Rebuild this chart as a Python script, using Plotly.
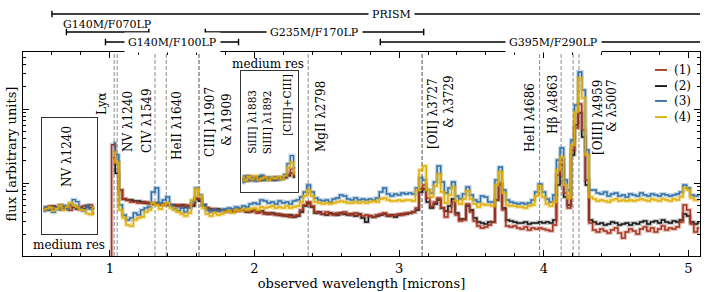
import plotly.graph_objects as go

# ---------------- data ----------------
REDSHIFT = 7.475

wavelength_um = [
    1.000,
    1.025, 1.050, 1.075, 1.100, 1.125, 1.150, 1.175, 1.200,
    1.225, 1.250, 1.275, 1.300, 1.325, 1.350, 1.375, 1.400,
    1.425, 1.450, 1.475, 1.500, 1.525, 1.550, 1.575, 1.600,
    1.625, 1.650, 1.675, 1.700, 1.725, 1.750, 1.775, 1.800,
    1.825, 1.850, 1.875, 1.900, 1.925, 1.950, 1.975, 2.000,
    2.025, 2.050, 2.075, 2.100, 2.125, 2.150, 2.175, 2.200,
    2.225, 2.250, 2.275, 2.300, 2.325, 2.350, 2.375, 2.400,
    2.425, 2.450, 2.475, 2.500, 2.525, 2.550, 2.575, 2.600,
    2.625, 2.650, 2.675, 2.700, 2.725, 2.750, 2.775, 2.800,
    2.825, 2.850, 2.875, 2.900, 2.925, 2.950, 2.975, 3.000,
    3.025, 3.050, 3.075, 3.100, 3.125, 3.150, 3.175, 3.200,
    3.225, 3.250, 3.275, 3.300, 3.325, 3.350, 3.375, 3.400,
    3.425, 3.450, 3.475, 3.500, 3.525, 3.550, 3.575, 3.600,
    3.625, 3.650, 3.675, 3.700, 3.725, 3.750, 3.775, 3.800,
    3.825, 3.850, 3.875, 3.900, 3.925, 3.950, 3.975, 4.000,
    4.025, 4.050, 4.075, 4.100, 4.125, 4.150, 4.175, 4.200,
    4.225, 4.250, 4.275, 4.300, 4.325, 4.350, 4.375, 4.400,
    4.425, 4.450, 4.475, 4.500, 4.525, 4.550, 4.575, 4.600,
    4.625, 4.650, 4.675, 4.700, 4.725, 4.750, 4.775, 4.800,
    4.825, 4.850, 4.875, 4.900, 4.925, 4.950, 4.975, 5.000,
    5.025, 5.050, 5.075,
]

flux_1 = [
    0.05,
    3.3, 1.9, 0.80, 0.608, 0.589, 0.554, 0.554, 0.537,
    0.537, 0.554, 0.521, 0.521, 0.521, 0.505, 0.521, 0.505,
    0.505, 0.489, 0.505, 0.474, 0.505, 0.474, 0.521, 0.627,
    0.608, 0.505, 0.460, 0.432, 0.446, 0.419, 0.432, 0.406,
    0.419, 0.432, 0.419, 0.446, 0.432, 0.419, 0.406, 0.419,
    0.393, 0.406, 0.381, 0.393, 0.381, 0.370, 0.381, 0.358,
    0.370, 0.347, 0.358, 0.370, 0.432, 0.505, 0.554, 0.489,
    0.406, 0.393, 0.381, 0.406, 0.381, 0.370, 0.393, 0.381,
    0.406, 0.381, 0.370, 0.393, 0.370, 0.358, 0.370, 0.358,
    0.347, 0.370, 0.381, 0.393, 0.370, 0.358, 0.370, 0.381,
    0.370, 0.393, 0.393, 0.406, 0.460, 0.830, 0.940, 0.627,
    0.489, 0.554, 0.627, 0.460, 0.347, 0.406, 0.554, 0.370,
    0.307, 0.316, 0.521, 0.406, 0.307, 0.262, 0.247, 0.254,
    0.271, 0.297, 0.589, 1.00, 0.432, 0.262, 0.254, 0.262,
    0.247, 0.239, 0.254, 0.232, 0.247, 0.239, 0.247, 0.239,
    0.232, 0.225, 0.271, 1.28, 2.05, 0.733, 0.460, 2.79,
    5.53, 11.7, 5.20, 1.10, 0.288, 0.232, 0.218, 0.239,
    0.225, 0.211, 0.232, 0.247, 0.211, 0.181, 0.218, 0.239,
    0.225, 0.205, 0.239, 0.254, 0.225, 0.247, 0.218, 0.239,
    0.262, 0.232, 0.247, 0.239, 0.254, 0.297, 0.505, 0.432,
    0.279, 0.218, 0.247,
]

flux_2 = [
    None,
    2.2, 1.36, 0.80, 0.608, 0.589, 0.589, 0.571, 0.571,
    0.554, 0.537, 0.537, 0.521, 0.537, 0.521, 0.505, 0.521,
    0.505, 0.505, 0.489, 0.505, 0.474, 0.489, 0.489, 0.608,
    0.571, 0.505, 0.460, 0.446, 0.432, 0.446, 0.432, 0.419,
    0.419, 0.406, 0.432, 0.419, 0.432, 0.406, 0.419, 0.432,
    0.406, 0.419, 0.393, 0.381, 0.393, 0.381, 0.370, 0.370,
    0.358, 0.370, 0.347, 0.358, 0.406, 0.489, 0.537, 0.474,
    0.393, 0.406, 0.381, 0.370, 0.393, 0.381, 0.370, 0.393,
    0.381, 0.370, 0.381, 0.358, 0.381, 0.337, 0.297, 0.358,
    0.347, 0.358, 0.370, 0.381, 0.358, 0.370, 0.347, 0.370,
    0.381, 0.381, 0.393, 0.406, 0.432, 0.756, 0.830, 0.554,
    0.460, 0.521, 0.589, 0.460, 0.419, 0.489, 0.608, 0.393,
    0.326, 0.326, 0.489, 0.432, 0.337, 0.297, 0.288, 0.279,
    0.297, 0.297, 0.589, 0.940, 0.460, 0.316, 0.307, 0.297,
    0.288, 0.288, 0.297, 0.279, 0.288, 0.288, 0.297, 0.288,
    0.297, 0.288, 0.316, 0.940, 1.75, 0.647, 0.505, 2.39,
    6.06, 8.8, 4.18, 0.94, 0.316, 0.297, 0.279, 0.288,
    0.271, 0.279, 0.297, 0.288, 0.271, 0.279, 0.288, 0.271,
    0.288, 0.279, 0.297, 0.307, 0.279, 0.297, 0.307, 0.288,
    0.316, 0.297, 0.288, 0.307, 0.297, 0.316, 0.381, 0.358,
    0.297, 0.279, 0.288,
]

flux_3 = [
    None,
    3.47, 2.4, 0.505, 0.370, 0.316, 0.337, 0.393, 0.370,
    0.432, 0.460, 0.474, 0.756, 0.856, 0.537, 0.589, 0.647,
    0.505, 0.446, 0.419, 0.460, 0.406, 0.460, 0.571, 0.856,
    0.689, 0.505, 0.432, 0.406, 0.432, 0.419, 0.432, 0.446,
    0.460, 0.446, 0.474, 0.460, 0.489, 0.474, 0.521, 0.537,
    0.521, 0.589, 0.571, 0.537, 0.554, 0.521, 0.571, 0.537,
    0.554, 0.521, 0.571, 0.589, 0.647, 0.756, 0.940, 0.756,
    0.627, 0.589, 0.571, 0.589, 0.554, 0.608, 0.627, 0.689,
    0.668, 0.608, 0.589, 0.627, 0.589, 0.608, 0.589, 0.608,
    0.589, 0.627, 0.756, 0.856, 0.710, 0.668, 0.710, 0.689,
    0.733, 0.710, 0.733, 0.710, 0.856, 1.17, 1.10, 0.805,
    0.733, 1.03, 1.70, 1.03, 0.733, 0.856, 1.03, 0.668,
    0.608, 0.710, 0.883, 0.689, 0.589, 0.554, 0.668, 0.647,
    0.554, 0.554, 1.10, 1.64, 0.805, 0.589, 0.554, 0.537,
    0.521, 0.537, 0.521, 0.537, 0.589, 0.756, 0.969, 0.756,
    0.608, 0.554, 0.689, 2.05, 2.97, 1.10, 0.805, 3.81,
    11.3, 31.6, 18.1, 2.79, 0.805, 0.805, 0.733, 0.710,
    0.756, 0.668, 0.710, 0.733, 0.668, 0.689, 0.647, 0.710,
    0.689, 0.668, 0.733, 0.689, 0.668, 0.710, 0.689, 0.668,
    0.710, 0.689, 0.668, 0.689, 0.710, 0.756, 0.940, 0.856,
    0.689, 0.668, 0.668,
]

flux_4 = [
    None,
    2.6, 1.9, 0.432, 0.337, 0.271, 0.262, 0.316, 0.337,
    0.347, 0.406, 0.432, 0.537, 0.505, 0.446, 0.505, 0.537,
    0.460, 0.432, 0.406, 0.381, 0.358, 0.393, 0.589, 0.830,
    0.668, 0.460, 0.381, 0.358, 0.393, 0.370, 0.381, 0.406,
    0.419, 0.393, 0.432, 0.419, 0.446, 0.432, 0.446, 0.460,
    0.432, 0.474, 0.460, 0.474, 0.489, 0.460, 0.474, 0.460,
    0.489, 0.460, 0.474, 0.489, 0.554, 0.668, 0.805, 0.668,
    0.554, 0.537, 0.521, 0.537, 0.521, 0.537, 0.554, 0.571,
    0.554, 0.537, 0.537, 0.554, 0.537, 0.554, 0.537, 0.554,
    0.571, 0.554, 0.608, 0.627, 0.589, 0.571, 0.571, 0.589,
    0.571, 0.589, 0.589, 0.571, 0.805, 1.50, 1.70, 0.805,
    0.647, 0.911, 1.32, 0.756, 0.537, 0.689, 0.883, 0.571,
    0.521, 0.608, 0.780, 0.608, 0.521, 0.474, 0.521, 0.505,
    0.505, 0.489, 0.940, 1.41, 0.733, 0.505, 0.489, 0.489,
    0.474, 0.474, 0.460, 0.489, 0.505, 0.668, 0.911, 0.647,
    0.521, 0.489, 0.554, 1.50, 2.25, 0.940, 0.627, 3.26,
    9.1, 26.3, 14.1, 2.39, 0.647, 0.608, 0.571, 0.589,
    0.571, 0.554, 0.589, 0.608, 0.571, 0.589, 0.571, 0.589,
    0.571, 0.589, 0.608, 0.589, 0.571, 0.608, 0.589, 0.571,
    0.608, 0.589, 0.571, 0.608, 0.589, 0.647, 0.856, 0.805,
    0.627, 0.589, 0.589,
]

series_names = ["(1)", "(2)", "(3)", "(4)"]

# medium-resolution inset around N V 1240 (rest-frame Angstrom)
inset1_wave_A = [1202, 1206, 1210, 1214, 1218, 1222, 1226, 1230,
                 1234, 1238, 1242, 1246, 1250, 1254, 1258, 1262]
inset1_flux_1 = [0.98, 0.95, 1.02, 0.96, 1.00, 1.04, 0.97, 1.00, 0.94, 1.03, 0.99, 0.95, 1.02, 1.00, 1.04, 0.98]
inset1_flux_2 = [0.96, 1.00, 0.95, 1.02, 0.98, 0.96, 1.01, 0.97, 1.03, 0.99, 0.96, 1.00, 0.97, 1.03, 0.99, 0.97]
inset1_flux_3 = [0.92, 1.00, 0.94, 0.90, 1.00, 0.95, 1.03, 0.96, 1.04, 1.14, 1.10, 0.97, 0.93, 1.02, 0.96, 0.88]
inset1_flux_4 = [0.95, 0.97, 1.00, 0.93, 0.97, 1.03, 0.94, 1.00, 1.08, 1.03, 1.00, 0.95, 0.94, 0.88, 0.86, 0.99]
inset1_lines_A = [1240.0]

# medium-resolution inset around Si III] / C III] (rest-frame Angstrom)
inset2_wave_A = [1870.0, 1872.5, 1875.0, 1877.5, 1880.0, 1882.5, 1885.0, 1887.5, 1890.0,
                 1892.5, 1895.0, 1897.5, 1900.0, 1902.5, 1905.0, 1907.5, 1910.0]
inset2_flux_1 = [1.00, 0.90, 1.10, 0.95, 1.05, 0.92, 1.08, 0.97, 1.02, 0.94, 1.06, 0.98, 1.00, 1.08, 1.15, 1.35, 1.10]
inset2_flux_2 = [0.95, 1.05, 0.92, 1.00, 0.96, 1.06, 0.94, 1.02, 0.96, 1.00, 0.94, 1.04, 0.98, 1.02, 1.10, 1.20, 1.05]
inset2_flux_3 = [0.85, 1.10, 0.95, 1.05, 0.90, 1.00, 1.12, 0.93, 1.05, 0.96, 1.02, 0.95, 1.05, 1.15, 1.55, 1.85, 1.40]
inset2_flux_4 = [1.05, 0.92, 1.08, 0.98, 1.10, 0.95, 1.00, 1.05, 0.94, 1.02, 1.00, 1.06, 0.98, 1.10, 1.40, 1.60, 1.20]
inset2_lines_A = [1882.7, 1892.0, 1906.7, 1908.7]

# rest-frame emission lines marked in the main panel (Angstrom)
emission_lines_A = [1215.67, 1240.0, 1549.0, 1640.4, 1906.7, 1908.7, 2798.0,
                    3726.0, 3728.8, 4685.7, 4861.3, 4958.9, 5006.8]

# NIRSpec disperser/filter coverage (microns)
gratings = [
    ("PRISM", 0.60, 5.30),
    ("G140M/F070LP", 0.70, 1.27),
    ("G140M/F100LP", 0.97, 1.89),
    ("G235M/F170LP", 1.66, 3.17),
    ("G395M/F290LP", 2.87, 5.27),
]

# ---------------- style ----------------
FONT = "DejaVu Serif"
colors = ["#a5331d", "#111111", "#2f6fa6", "#e0ae08"]
halos = ["rgba(165,51,29,0.28)", "rgba(0,0,0,0.20)", "rgba(47,111,166,0.28)", "rgba(224,174,8,0.32)"]
draw_order = [1, 0, 2, 3]

fig = go.Figure()

main_series = [flux_1, flux_2, flux_3, flux_4]
inset1_series = [inset1_flux_1, inset1_flux_2, inset1_flux_3, inset1_flux_4]
inset2_series = [inset2_flux_1, inset2_flux_2, inset2_flux_3, inset2_flux_4]

for i in draw_order:
    for xa, ya, xs, ys, w in [("x", "y", wavelength_um, main_series[i], 1.5),
                              ("x2", "y2", inset1_wave_A, inset1_series[i], 1.3),
                              ("x3", "y3", inset2_wave_A, inset2_series[i], 1.3)]:
        fig.add_trace(go.Scatter(x=xs, y=ys, xaxis=xa, yaxis=ya, mode="lines",
                                 line=dict(color=halos[i], width=w + 2.4, shape="hvh"),
                                 hoverinfo="skip", showlegend=False))
        fig.add_trace(go.Scatter(x=xs, y=ys, xaxis=xa, yaxis=ya, mode="lines",
                                 line=dict(color=colors[i], width=w, shape="hvh"),
                                 name=series_names[i], showlegend=False))

shapes = []
annotations = []


def label(text, x, y, size=12, xref="paper", yref="paper", angle=0, **kw):
    d = dict(text=text, xref=xref, yref=yref, x=x, y=y, textangle=angle, showarrow=False,
             xanchor=kw.pop("xanchor", "center"), yanchor="middle",
             font=dict(family=FONT, size=size, color="black"))
    d.update(kw)
    annotations.append(d)


# dashed emission-line markers
for lam in emission_lines_A:
    xo = lam * (1 + REDSHIFT) / 1e4
    shapes.append(dict(type="line", xref="x", yref="paper", x0=xo, x1=xo, y0=0, y1=1,
                       line=dict(color="#8c8c8c", width=1, dash="4px,2px"), layer="below"))
for lam in inset1_lines_A:
    shapes.append(dict(type="line", xref="x2", yref="y2 domain", x0=lam, x1=lam, y0=0, y1=1,
                       line=dict(color="#8c8c8c", width=1, dash="4px,2px"), layer="below"))
for lam in inset2_lines_A:
    shapes.append(dict(type="line", xref="x3", yref="y3 domain", x0=lam, x1=lam, y0=0, y1=1,
                       line=dict(color="#8c8c8c", width=1, dash="4px,2px"), layer="below"))

# grating coverage brackets
bracket_rows = {"PRISM": (1.186, None), "G140M/F070LP": (1.098, 1.137),
                "G140M/F100LP": (1.049, None), "G235M/F170LP": (1.098, None),
                "G395M/F290LP": (1.049, None)}
cap = 0.016
for name, lo, hi in gratings:
    yl, ytext = bracket_rows[name]
    shapes.append(dict(type="line", xref="x", yref="paper", x0=lo, x1=hi, y0=yl, y1=yl,
                       line=dict(color="black", width=1.4)))
    for xe in (lo, hi):
        shapes.append(dict(type="line", xref="x", yref="paper", x0=xe, x1=xe, y0=yl - cap, y1=yl + cap,
                           line=dict(color="black", width=1.4)))
    if ytext is None:
        label(name, (lo + hi) / 2, yl, size=11, xref="x", bgcolor="white", borderpad=3)
    else:
        label(name, (lo + hi) / 2, ytext, size=11, xref="x")

# rotated line labels (paper coordinates)
line_labels = [
    ("Ly\u03b1", 0.1167, 0.745, 12),
    ("NV \u03bb1240", 0.1551, 0.657, 12),
    ("CIV \u03bb1549", 0.1832, 0.662, 12),
    ("HeII \u03bb1640", 0.2275, 0.637, 12),
    ("CIII] \u03bb1907", 0.2762, 0.657, 12),
    ("& \u03bb1909", 0.3013, 0.672, 12),
    ("MgII \u03bb2798", 0.4402, 0.681, 12),
    ("[OII] \u03bb3727", 0.6056, 0.701, 12),
    ("& \u03bb3729", 0.6292, 0.760, 12),
    ("HeII \u03bb4686", 0.7489, 0.676, 12),
    ("H\u03b2 \u03bb4863", 0.7829, 0.740, 12),
    ("[OIII] \u03bb4959", 0.8493, 0.681, 12),
    ("& \u03bb5007", 0.8700, 0.740, 12),
    ("NV \u03bb1240", 0.065, 0.485, 12),
    ("SiIII] \u03bb1883", 0.338, 0.657, 10.5),
    ("SiIII] \u03bb1892", 0.361, 0.657, 10.5),
    ("[CIII]+CIII]", 0.390, 0.740, 10.5),
]
for txt, xp, yp, fs in line_labels:
    label(txt, xp, yp, size=fs, angle=-90)

label("medium res", 0.068, 0.054)
label("medium res", 0.362, 0.941)

# manual legend
legend_y = [0.912, 0.833, 0.760, 0.681]
for i in range(4):
    shapes.append(dict(type="line", xref="paper", yref="paper", x0=0.9335, x1=0.9513,
                       y0=legend_y[i], y1=legend_y[i], line=dict(color=colors[i], width=1.8)))
    label(series_names[i], 0.958, legend_y[i], xanchor="left")

minor_y = [v * d for d in (0.1, 1, 10) for v in range(2, 10)]

inset_axis = dict(showline=True, mirror=True, linecolor="#333333", linewidth=1, ticks="",
                  showticklabels=False, showgrid=False, zeroline=False, automargin=False)

fig.update_layout(
    width=706, height=292,
    margin=dict(l=23, r=6, t=52, b=36, autoexpand=False),
    paper_bgcolor="white", plot_bgcolor="white",
    showlegend=False,
    font=dict(family=FONT, size=12, color="black"),
    shapes=shapes, annotations=annotations,
    xaxis=dict(range=[0.4, 5.08], tickvals=[1, 2, 3, 4, 5], ticks="inside", ticklen=6,
               tickwidth=1, tickcolor="black", showline=True, linecolor="black", linewidth=1,
               mirror="allticks", showgrid=False, zeroline=False, automargin=False,
               minor=dict(dtick=0.2, tick0=0, ticks="inside", ticklen=3, tickcolor="black", showgrid=False),
               tickfont=dict(family=FONT, size=13),
               title=dict(text="observed wavelength [microns]", standoff=0,
                          font=dict(family=FONT, size=13))),
    yaxis=dict(type="log", range=[-0.986, 1.770], tickvals=[0.1, 1, 10], showticklabels=False,
               ticks="inside", ticklen=6, tickwidth=1, tickcolor="black",
               minor=dict(tickmode="array", tickvals=minor_y, ticks="inside", ticklen=3,
                          tickcolor="black", showgrid=False),
               showline=True, linecolor="black", linewidth=1, mirror="allticks",
               showgrid=False, zeroline=False, automargin=False,
               title=dict(text="flux [arbitrary units]", standoff=2,
                          font=dict(family=FONT, size=13))),
    xaxis2=dict(domain=[0.0276, 0.1089], anchor="y2", range=[1200, 1265], **inset_axis),
    yaxis2=dict(domain=[0.108, 0.675], anchor="x2", range=[0.5, 2.65], **inset_axis),
    xaxis3=dict(domain=[0.322, 0.406], anchor="y3", range=[1869, 1912], **inset_axis),
    yaxis3=dict(domain=[0.314, 0.907], anchor="x3", range=[0.5, 5.0], **inset_axis),
)

fig.write_html("out.html", config={"displayModeBar": False},
               post_script="document.body.style.margin='0px';")
